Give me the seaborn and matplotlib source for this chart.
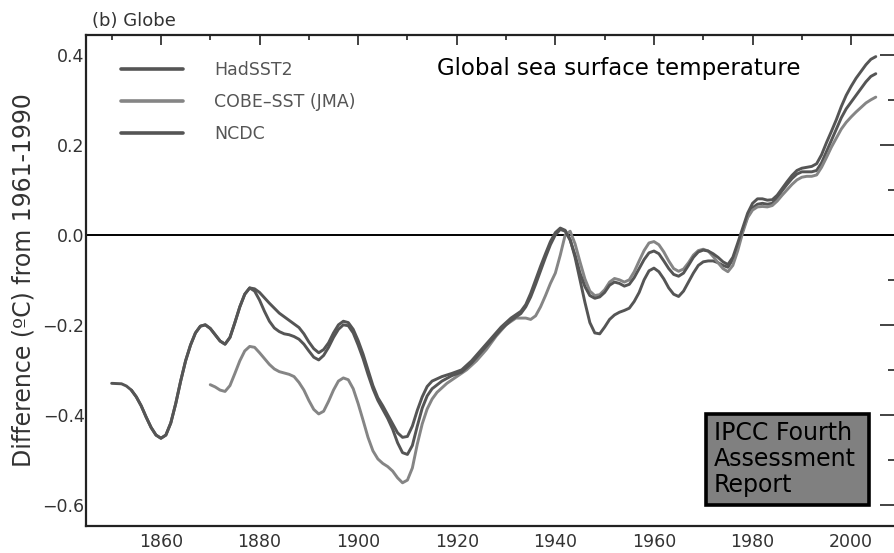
import numpy as np
import pandas as pd
import matplotlib
matplotlib.use("Agg")
import matplotlib.pyplot as plt
from matplotlib.ticker import MultipleLocator, FixedLocator
import seaborn as sns

# Smoothed global SST anomalies (deg C, relative to 1961-1990)
had_years = [1850, 1852, 1853, 1854, 1855, 1856, 1857, 1858, 1859, 1860, 1861, 1862,
             1863, 1864, 1865, 1866, 1867, 1868, 1869, 1870, 1871, 1872, 1873, 1874,
             1875, 1876, 1877, 1878, 1879, 1880, 1882, 1884, 1886, 1888, 1889, 1890,
             1891, 1892, 1893, 1894, 1895, 1896, 1897, 1898, 1899, 1900, 1901, 1902,
             1903, 1904, 1905, 1906, 1907, 1908, 1909, 1910, 1911, 1912, 1913, 1914,
             1915, 1917, 1919, 1921, 1923, 1925, 1927, 1929, 1931, 1933, 1934, 1935,
             1936, 1937, 1938, 1939, 1940, 1941, 1942, 1943, 1944, 1945, 1946, 1947,
             1948, 1949, 1950, 1951, 1952, 1953, 1954, 1955, 1956, 1957, 1958, 1959,
             1960, 1961, 1962, 1963, 1964, 1965, 1966, 1967, 1968, 1969, 1970, 1971,
             1972, 1973, 1974, 1975, 1976, 1977, 1978, 1979, 1980, 1981, 1982, 1983,
             1984, 1985, 1986, 1987, 1988, 1989, 1990, 1991, 1992, 1993, 1994, 1995,
             1996, 1997, 1998, 1999, 2000, 2001, 2002, 2003, 2004, 2005]
had_vals = [-0.330, -0.331, -0.336, -0.345, -0.360, -0.380, -0.405, -0.428, -0.445, -0.452, -0.445, -0.418,
            -0.375, -0.325, -0.280, -0.245, -0.218, -0.203, -0.200, -0.208, -0.222, -0.236, -0.243, -0.228,
            -0.195, -0.160, -0.132, -0.118, -0.120, -0.128, -0.152, -0.174, -0.190, -0.206, -0.220, -0.238,
            -0.253, -0.262, -0.255, -0.240, -0.218, -0.200, -0.192, -0.195, -0.210, -0.235, -0.265, -0.300,
            -0.335, -0.362, -0.380, -0.400, -0.420, -0.440, -0.450, -0.448, -0.425, -0.390, -0.360, -0.337,
            -0.325, -0.315, -0.308, -0.300, -0.280, -0.255, -0.230, -0.205, -0.185, -0.170, -0.155, -0.130,
            -0.100, -0.070, -0.042, -0.015, 0.005, 0.015, 0.010, -0.010, -0.050, -0.100, -0.150, -0.195,
            -0.218, -0.220, -0.205, -0.188, -0.178, -0.172, -0.168, -0.163, -0.148, -0.128, -0.100, -0.080,
            -0.074, -0.082, -0.098, -0.118, -0.132, -0.137, -0.125, -0.105, -0.085, -0.068, -0.060, -0.058,
            -0.058, -0.062, -0.068, -0.072, -0.055, -0.025, 0.010, 0.040, 0.060, 0.068, 0.070, 0.068,
            0.070, 0.082, 0.098, 0.112, 0.125, 0.135, 0.140, 0.140, 0.140, 0.143, 0.160, 0.185,
            0.210, 0.235, 0.260, 0.280, 0.295, 0.310, 0.325, 0.340, 0.352, 0.358]

cobe_years = list(range(1870, 1916)) + [1916, 1918, 1920, 1922, 1924, 1926, 1928, 1930,
                                        1932, 1934] + list(range(1935, 2006))
cobe_vals = [-0.333, -0.338, -0.345, -0.348, -0.335, -0.308, -0.280, -0.258, -0.248, -0.250,
             -0.262, -0.275, -0.288, -0.298, -0.304, -0.307, -0.310, -0.315, -0.328, -0.345,
             -0.368, -0.388, -0.398, -0.392, -0.370, -0.345, -0.325, -0.318, -0.322, -0.342,
             -0.375, -0.412, -0.450, -0.480, -0.498, -0.508, -0.515, -0.525, -0.540, -0.551,
             -0.545, -0.518, -0.465, -0.420, -0.387, -0.365,
             -0.350, -0.330, -0.315, -0.300, -0.280, -0.255, -0.225, -0.200, -0.185, -0.185,
             -0.188, -0.180, -0.160, -0.135, -0.108, -0.085, -0.045, 0.000, 0.008, -0.020,
             -0.060, -0.098, -0.125, -0.135, -0.133, -0.122, -0.105, -0.097, -0.100, -0.105,
             -0.100, -0.082, -0.058, -0.035, -0.018, -0.015, -0.022, -0.038, -0.058, -0.075,
             -0.081, -0.076, -0.062, -0.045, -0.035, -0.032, -0.036, -0.048, -0.062, -0.075,
             -0.082, -0.068, -0.035, 0.005, 0.038, 0.055, 0.062, 0.063, 0.062, 0.065,
             0.075, 0.088, 0.100, 0.112, 0.122, 0.128, 0.130, 0.130, 0.133, 0.150,
             0.172, 0.195, 0.215, 0.235, 0.250, 0.262, 0.273, 0.283, 0.293, 0.300, 0.306]

ncdc_years = list(range(1854, 1916)) + [1917, 1919, 1921, 1923, 1925, 1927, 1929, 1931,
                                        1933] + list(range(1934, 2006))
ncdc_vals = [-0.345, -0.360, -0.380, -0.405, -0.428, -0.445, -0.452, -0.445, -0.418, -0.375,
             -0.325, -0.280, -0.245, -0.218, -0.203, -0.200, -0.208, -0.222, -0.236, -0.243,
             -0.228, -0.195, -0.160, -0.132, -0.118, -0.125, -0.145, -0.170, -0.192, -0.207,
             -0.215, -0.220, -0.222, -0.226, -0.232, -0.243, -0.258, -0.272, -0.278, -0.268,
             -0.250, -0.228, -0.210, -0.200, -0.202, -0.218, -0.245, -0.275, -0.310, -0.342,
             -0.368, -0.388, -0.408, -0.432, -0.462, -0.484, -0.488, -0.468, -0.425, -0.385,
             -0.358, -0.342,
             -0.325, -0.313, -0.305, -0.285, -0.260, -0.235, -0.210, -0.190, -0.175,
             -0.160, -0.138, -0.110, -0.080, -0.050, -0.022, 0.000, 0.012, 0.008, -0.012,
             -0.045, -0.085, -0.115, -0.135, -0.141, -0.138, -0.128, -0.112, -0.105, -0.108,
             -0.114, -0.110, -0.095, -0.075, -0.055, -0.040, -0.036, -0.042, -0.058, -0.075,
             -0.088, -0.092, -0.085, -0.068, -0.050, -0.038, -0.034, -0.036, -0.042, -0.050,
             -0.060, -0.066, -0.050, -0.018, 0.015, 0.048, 0.070, 0.080, 0.080, 0.077,
             0.078, 0.088, 0.103, 0.118, 0.132, 0.143, 0.148, 0.150, 0.152, 0.158,
             0.178, 0.205, 0.230, 0.256, 0.285, 0.310, 0.330, 0.348, 0.363, 0.378, 0.390, 0.396]

series_names = ["HadSST2", "COBE\u2013SST (JMA)", "NCDC"]
series_colors = ["#555555", "#858585", "#555555"]

x_major = [1860, 1880, 1900, 1920, 1940, 1960, 1980, 2000]
y_major = [-0.6, -0.4, -0.2, 0.0, 0.2, 0.4]
y_labels = ["\u22120.6", "\u22120.4", "\u22120.2", "0.0", "0.2", "0.4"]

frames = []
for name, yrs, vals in zip(series_names,
                           [had_years, cobe_years, ncdc_years],
                           [had_vals, cobe_vals, ncdc_vals]):
    frames.append(pd.DataFrame({"year": yrs, "anomaly": vals, "source": name}))
df = pd.concat(frames, ignore_index=True)

sns.set_style("white")
plt.rcParams["font.family"] = ["DejaVu Sans"]

W, H = 895, 553
fig = plt.figure(figsize=(W / 100, H / 100), dpi=100)
left, right, top, bottom = 86, 897, 35, 526
aw, ah = right - left, bottom - top
ax = fig.add_axes([left / W, 1 - bottom / H, aw / W, ah / H])

sns.lineplot(data=df, x="year", y="anomaly", hue="source", hue_order=series_names,
             palette=dict(zip(series_names, series_colors)), linewidth=2.1,
             sort=False, estimator=None, ax=ax)
for ln in ax.get_lines():
    ln.set_solid_joinstyle("round")
    ln.set_solid_capstyle("round")

ax.axhline(0.0, color="black", linewidth=1.4, zorder=1)

ax.set_xlim(1844.8, 2009.3)
ax.set_ylim(-0.647, 0.444)

ax.xaxis.set_major_locator(FixedLocator(x_major))
ax.xaxis.set_minor_locator(MultipleLocator(10))
ax.yaxis.set_major_locator(FixedLocator(y_major))
ax.yaxis.set_minor_locator(MultipleLocator(0.1))
ax.set_yticklabels(y_labels)

ax.tick_params(axis="both", which="both", direction="in", top=True, right=True,
               colors="#222222", labelcolor="#333333", width=1.2)
ax.tick_params(axis="x", which="major", length=7, pad=5, labelsize=12.5)
ax.tick_params(axis="x", which="minor", length=3.5)
ax.tick_params(axis="y", which="major", length=12, pad=1, labelsize=12.5)
ax.tick_params(axis="y", which="minor", length=6.5)
for sp in ax.spines.values():
    sp.set_color("#222222")
    sp.set_linewidth(1.6)

ax.set_xlabel("")
ax.set_ylabel("Difference (\u00baC) from 1961-1990", fontsize=17, color="#333333",
              va="center")
ax.yaxis.set_label_coords((23 - left) / aw, 0.5)

leg = ax.legend(loc="upper left", bbox_to_anchor=((114 - left) / aw, (bottom - 54) / ah),
                frameon=False, fontsize=12.5, handlelength=3.6, handletextpad=1.75,
                labelspacing=0.8, borderaxespad=0)
for t in leg.get_texts():
    t.set_color("#555555")
for h, c in zip(leg.get_lines(), series_colors):
    h.set_linewidth(2.6)
    h.set_color(c)

ax.text((437 - left) / aw, (bottom - 68) / ah,
        "Global sea surface temperature", transform=ax.transAxes,
        fontsize=16.5, color="black", va="center", ha="left")

fig.text(92 / W, 1 - 21 / H, "(b) Globe", fontsize=13, color="#333333",
         va="center", ha="left")

# Report badge in the lower right corner
bx0, by0, bx1, by1 = 706, 414, 869, 505
box = plt.Rectangle((bx0 / W, 1 - by1 / H), (bx1 - bx0) / W, (by1 - by0) / H,
                    transform=fig.transFigure, facecolor="#808080", edgecolor="black",
                    linewidth=2.6, zorder=5)
fig.patches.append(box)
fig.text(714 / W, 1 - 459 / H, "IPCC Fourth\nAssessment\nReport", fontsize=17,
         color="black", va="center", ha="left", linespacing=1.08, zorder=6)

fig.savefig("out.png", dpi=100)
